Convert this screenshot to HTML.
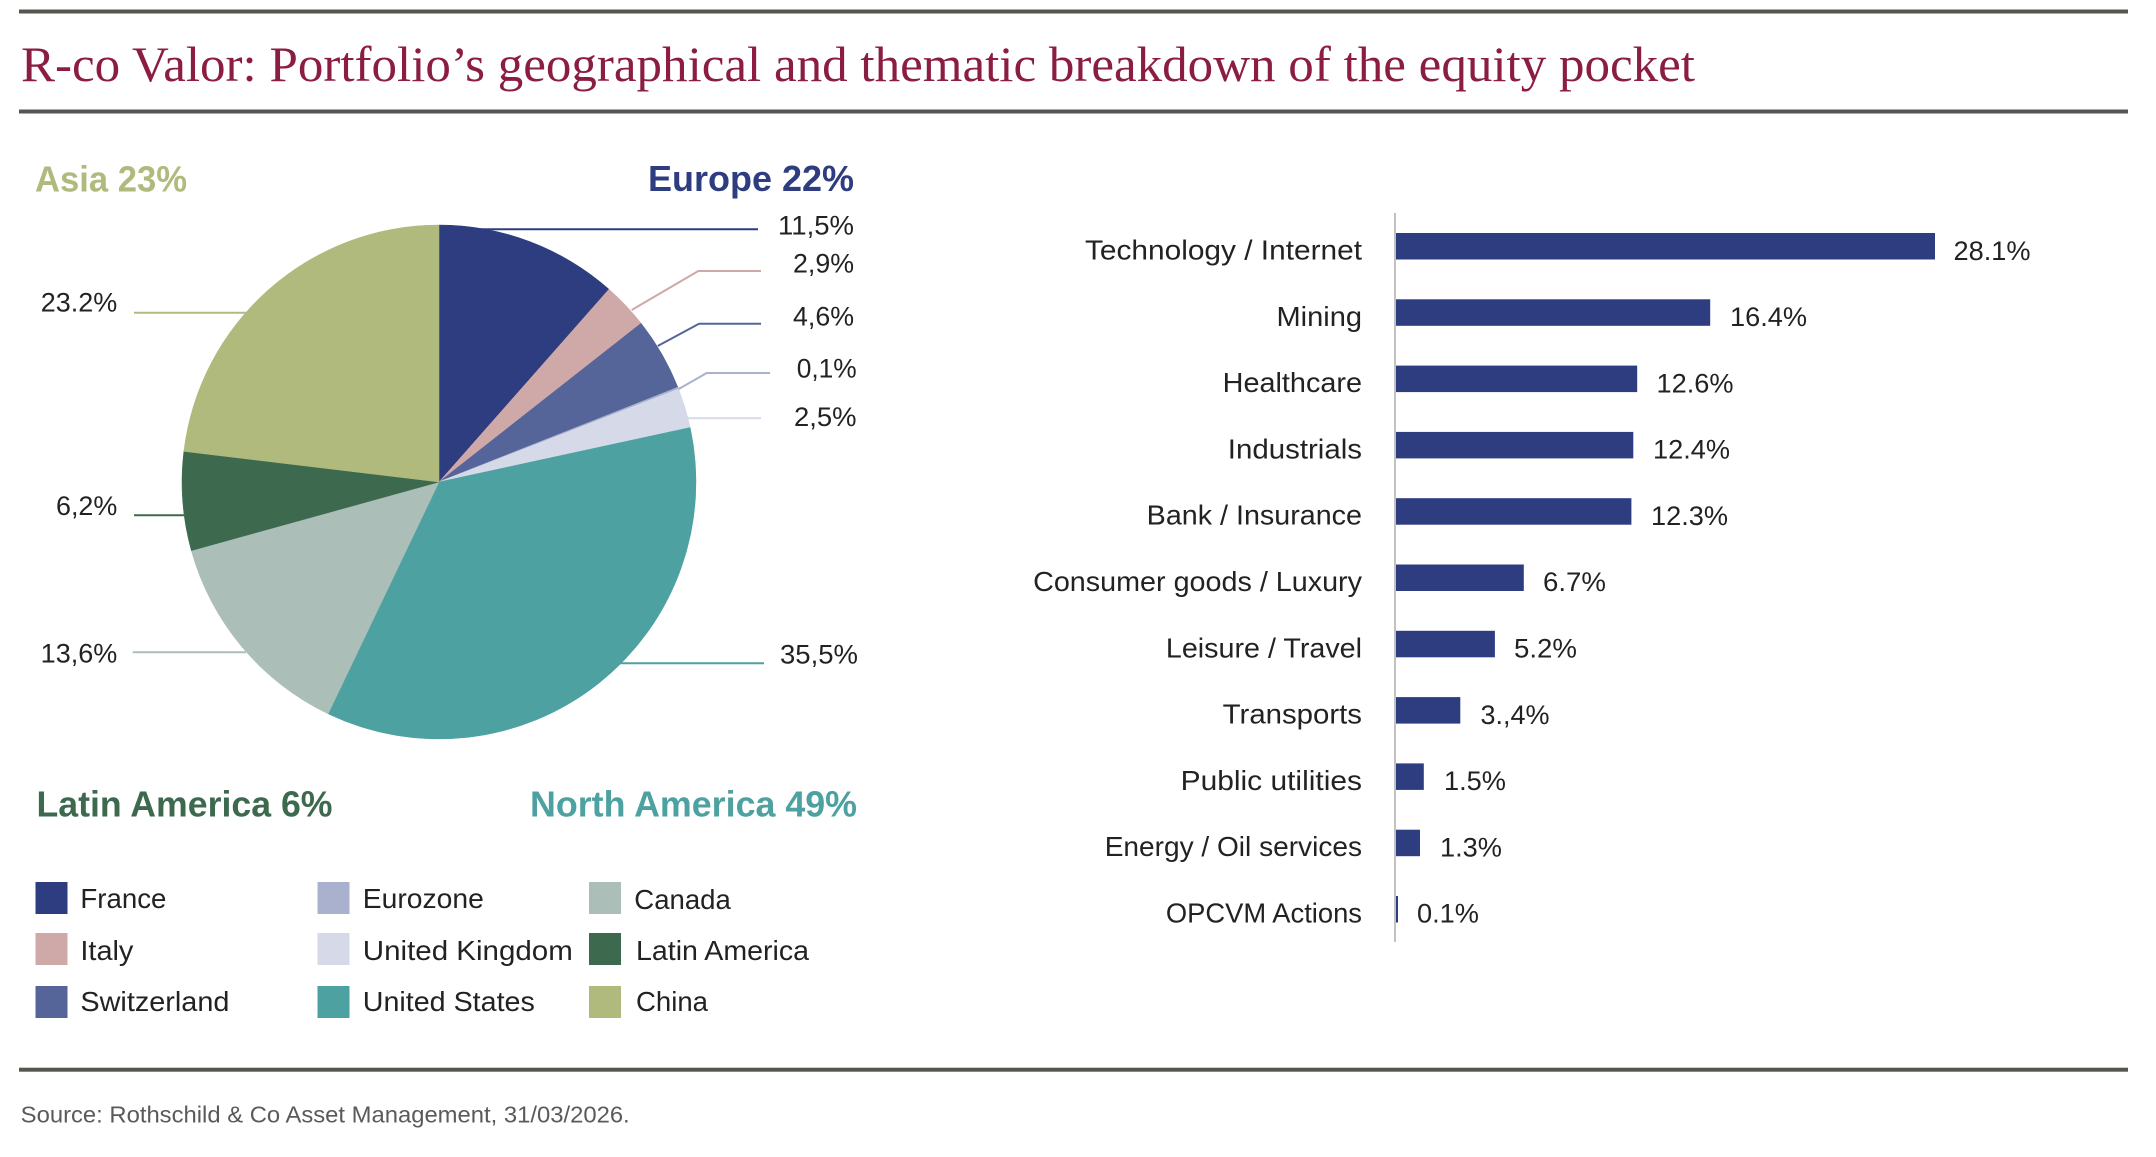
<!DOCTYPE html>
<html>
<head>
<meta charset="utf-8">
<style>
html,body{margin:0;padding:0;background:#fff;}
svg{display:block;}
text{font-family:"Liberation Sans",sans-serif;}
</style>
</head>
<body>
<svg width="2156" height="1157" viewBox="0 0 2156 1157" xmlns="http://www.w3.org/2000/svg">
<rect x="0" y="0" width="2156" height="1157" fill="#fff"/>

<!-- rules -->
<rect x="19" y="9.5" width="2109" height="4" fill="#555650"/>
<rect x="19" y="109.5" width="2109" height="4" fill="#555650"/>
<rect x="19" y="1067.7" width="2109" height="4" fill="#555650"/>

<!-- title -->
<text x="21" y="81" font-size="50" fill="#8B1D41" textLength="1674" lengthAdjust="spacingAndGlyphs" style="font-family:'Liberation Serif',serif">R-co Valor: Portfolio’s geographical and thematic breakdown of the equity pocket</text>

<!-- region headings -->
<g font-weight="bold" font-size="36">
<text x="35" y="191.5" fill="#B0BA7D" textLength="152" lengthAdjust="spacingAndGlyphs">Asia 23%</text>
<text x="648" y="191" fill="#2E3C80" textLength="206" lengthAdjust="spacingAndGlyphs">Europe 22%</text>
<text x="36.5" y="816.7" fill="#3D6A4E" textLength="296" lengthAdjust="spacingAndGlyphs">Latin America 6%</text>
<text x="530" y="816.7" fill="#4EA1A1" textLength="327" lengthAdjust="spacingAndGlyphs">North America 49%</text>
</g>

<!-- pie -->
<g>
<path d="M439 482 L439 225 A257 257 0 0 1 608.96 289.22 Z" fill="#2E3C80" stroke="#2E3C80" stroke-width="0.5"/>
<path d="M439 482 L608.96 289.22 A257 257 0 0 1 641.08 323.21 Z" fill="#CFA9A8" stroke="#CFA9A8" stroke-width="0.5"/>
<path d="M439 482 L641.08 323.21 A257 257 0 0 1 677.95 387.39 Z" fill="#55659A" stroke="#55659A" stroke-width="0.5"/>
<path d="M439 482 L677.95 387.39 A257 257 0 0 1 678.54 388.90 Z" fill="#A9B1CF" stroke="#A9B1CF" stroke-width="1"/>
<path d="M439 482 L678.54 388.90 A257 257 0 0 1 690.16 427.51 Z" fill="#D6DAE8" stroke="#D6DAE8" stroke-width="0.5"/>
<path d="M439 482 L690.16 427.51 A257 257 0 0 1 328.12 713.85 Z" fill="#4EA1A1" stroke="#4EA1A1" stroke-width="0.5"/>
<path d="M439 482 L328.12 713.85 A257 257 0 0 1 191.32 550.59 Z" fill="#ABBEB7" stroke="#ABBEB7" stroke-width="0.5"/>
<path d="M439 482 L191.32 550.59 A257 257 0 0 1 183.83 451.39 Z" fill="#3D6A4E" stroke="#3D6A4E" stroke-width="0.5"/>
<path d="M439 482 L183.83 451.39 A257 257 0 0 1 439 225 Z" fill="#B0BA7D" stroke="#B0BA7D" stroke-width="0.5"/>
</g>

<!-- leader lines -->
<g fill="none" stroke-width="2">
<polyline points="470,229.3 758,229.3" stroke="#2E3C80"/>
<polyline points="631.7,310 698.3,271 761,271" stroke="#CFA9A8"/>
<polyline points="657.7,346 699,323.7 761,323.7" stroke="#55659A"/>
<polyline points="678.3,389.3 706.7,373 770,373" stroke="#A9B1CF"/>
<polyline points="688,418.3 761,418.3" stroke="#D6DAE8"/>
<polyline points="620,663.3 764,663.3" stroke="#4EA1A1"/>
<polyline points="134,312.7 246,312.7" stroke="#B0BA7D"/>
<polyline points="134,515.3 184,515.3" stroke="#3D6A4E"/>
<polyline points="132.7,652.3 246,652.3" stroke="#ABBEB7"/>
</g>

<!-- pie labels -->
<g font-size="27" fill="#222">
<text x="778" y="234.3" textLength="76" lengthAdjust="spacingAndGlyphs">11,5%</text>
<text x="793" y="272.7" textLength="61" lengthAdjust="spacingAndGlyphs">2,9%</text>
<text x="793" y="325.3" textLength="61" lengthAdjust="spacingAndGlyphs">4,6%</text>
<text x="796.7" y="377.7" textLength="60" lengthAdjust="spacingAndGlyphs">0,1%</text>
<text x="794" y="426" textLength="62.5" lengthAdjust="spacingAndGlyphs">2,5%</text>
<text x="780" y="663.5" textLength="78" lengthAdjust="spacingAndGlyphs">35,5%</text>
<text x="40.7" y="311.7" textLength="76.5" lengthAdjust="spacingAndGlyphs">23.2%</text>
<text x="56" y="515" textLength="61.3" lengthAdjust="spacingAndGlyphs">6,2%</text>
<text x="40.7" y="662.7" textLength="76.6" lengthAdjust="spacingAndGlyphs">13,6%</text>
</g>

<!-- legend -->
<g>
<rect x="35.5" y="882" width="32" height="32" fill="#2E3C80"/>
<rect x="35.5" y="933" width="32" height="32" fill="#CFA9A8"/>
<rect x="35.5" y="986" width="32" height="32" fill="#55659A"/>
<rect x="317.5" y="882" width="32" height="32" fill="#A9B1CF"/>
<rect x="317.5" y="933" width="32" height="32" fill="#D6DAE8"/>
<rect x="317.5" y="986" width="32" height="32" fill="#4EA1A1"/>
<rect x="589" y="882" width="32" height="32" fill="#ABBEB7"/>
<rect x="589" y="933" width="32" height="32" fill="#3D6A4E"/>
<rect x="589" y="986" width="32" height="32" fill="#B0BA7D"/>
</g>
<g font-size="28" fill="#222">
<text x="80.4" y="908" textLength="86" lengthAdjust="spacingAndGlyphs">France</text>
<text x="80.4" y="960" textLength="53" lengthAdjust="spacingAndGlyphs">Italy</text>
<text x="80.4" y="1011" textLength="149" lengthAdjust="spacingAndGlyphs">Switzerland</text>
<text x="362.8" y="908" textLength="121" lengthAdjust="spacingAndGlyphs">Eurozone</text>
<text x="362.8" y="960" textLength="210" lengthAdjust="spacingAndGlyphs">United Kingdom</text>
<text x="362.8" y="1011" textLength="172" lengthAdjust="spacingAndGlyphs">United States</text>
<text x="634.3" y="909" textLength="96.5" lengthAdjust="spacingAndGlyphs">Canada</text>
<text x="636" y="960" textLength="173" lengthAdjust="spacingAndGlyphs">Latin America</text>
<text x="636" y="1011" textLength="72" lengthAdjust="spacingAndGlyphs">China</text>
</g>

<!-- source -->
<text x="20.7" y="1122.7" font-size="23.5" fill="#5a5a5a" textLength="609" lengthAdjust="spacingAndGlyphs">Source: Rothschild &amp; Co Asset Management, 31/03/2026.</text>

<!-- bar chart -->
<line x1="1395" y1="213" x2="1395" y2="942" stroke="#c2c2c2" stroke-width="2"/>
<g fill="#2E3C80">
<rect x="1396" y="233" width="539" height="26.5"/>
<rect x="1396" y="299.3" width="314.2" height="26.5"/>
<rect x="1396" y="365.6" width="241.2" height="26.5"/>
<rect x="1396" y="431.9" width="237.3" height="26.5"/>
<rect x="1396" y="498.2" width="235.4" height="26.5"/>
<rect x="1396" y="564.5" width="127.8" height="26.5"/>
<rect x="1396" y="630.8" width="98.9" height="26.5"/>
<rect x="1396" y="697.1" width="64.3" height="26.5"/>
<rect x="1396" y="763.4" width="27.8" height="26.5"/>
<rect x="1396" y="829.7" width="24" height="26.5"/>
<rect x="1396" y="896" width="2" height="26.5"/>
</g>
<g font-size="28" fill="#222" text-anchor="end">
<text x="1362" y="259.5" textLength="277" lengthAdjust="spacingAndGlyphs">Technology / Internet</text>
<text x="1362" y="325.8" textLength="85.5" lengthAdjust="spacingAndGlyphs">Mining</text>
<text x="1362" y="392.1" textLength="139.3" lengthAdjust="spacingAndGlyphs">Healthcare</text>
<text x="1362" y="458.4" textLength="134.2" lengthAdjust="spacingAndGlyphs">Industrials</text>
<text x="1362" y="524.7" textLength="215.3" lengthAdjust="spacingAndGlyphs">Bank / Insurance</text>
<text x="1362" y="591" textLength="328.9" lengthAdjust="spacingAndGlyphs">Consumer goods / Luxury</text>
<text x="1362" y="657.3" textLength="196.1" lengthAdjust="spacingAndGlyphs">Leisure / Travel</text>
<text x="1362" y="723.6" textLength="139.3" lengthAdjust="spacingAndGlyphs">Transports</text>
<text x="1362" y="789.9" textLength="181.4" lengthAdjust="spacingAndGlyphs">Public utilities</text>
<text x="1362" y="856.2" textLength="257.3" lengthAdjust="spacingAndGlyphs">Energy / Oil services</text>
<text x="1362" y="922.5" textLength="196.1" lengthAdjust="spacingAndGlyphs">OPCVM Actions</text>
</g>
<g font-size="27" fill="#222">
<text x="1953.5" y="260" textLength="77" lengthAdjust="spacingAndGlyphs">28.1%</text>
<text x="1730" y="326" textLength="77" lengthAdjust="spacingAndGlyphs">16.4%</text>
<text x="1656.5" y="392.3" textLength="77" lengthAdjust="spacingAndGlyphs">12.6%</text>
<text x="1653" y="458.6" textLength="77" lengthAdjust="spacingAndGlyphs">12.4%</text>
<text x="1651" y="524.9" textLength="77" lengthAdjust="spacingAndGlyphs">12.3%</text>
<text x="1543" y="591.2" textLength="63" lengthAdjust="spacingAndGlyphs">6.7%</text>
<text x="1514" y="657.5" textLength="63" lengthAdjust="spacingAndGlyphs">5.2%</text>
<text x="1480.5" y="723.8" textLength="69" lengthAdjust="spacingAndGlyphs">3.,4%</text>
<text x="1444" y="790.1" textLength="62" lengthAdjust="spacingAndGlyphs">1.5%</text>
<text x="1440" y="856.4" textLength="62" lengthAdjust="spacingAndGlyphs">1.3%</text>
<text x="1417" y="922.7" textLength="62" lengthAdjust="spacingAndGlyphs">0.1%</text>
</g>
</svg>
</body>
</html>
